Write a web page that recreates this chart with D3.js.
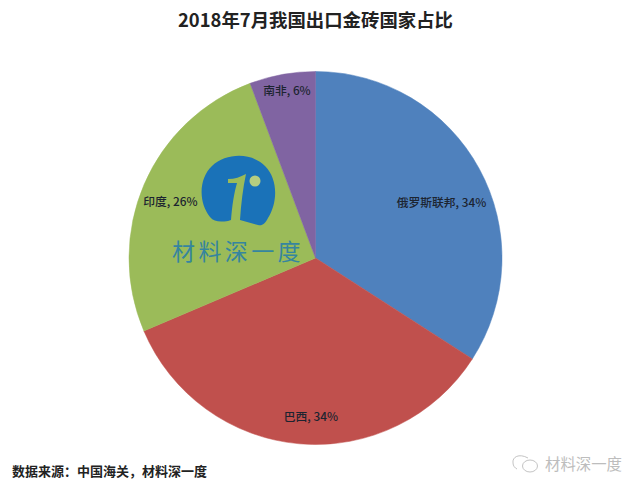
<!DOCTYPE html>
<meta charset="utf-8">
<style>
body { margin: 0; background: #fff; }
svg { display: block; }
text { font-family: "Noto Sans CJK SC", "Liberation Sans", sans-serif; }
.title { font-size: 18.4px; font-weight: 700; fill: #222; }
.slice-label { font-size: 11.8px; font-weight: 500; fill: #1c2430; }
.source { font-size: 13px; font-weight: 700; fill: #222; }
.brand { font-size: 23px; font-weight: 400; fill: #35859f; letter-spacing: 3.4px; }
.wechat { font-size: 15.4px; fill: #bdbdbd; }
</style>
<div id="chart"></div>
<script src="https://cdn.jsdelivr.net/npm/d3@7"></script>
<script>

const categories = ['俄罗斯联邦', '巴西', '印度', '南非'];
const shares = [34.1, 34.5, 25.7, 5.7];
const shareLabels = ['34%', '34%', '26%', '6%'];
const sliceColors = ['#4f81bd', '#c0504d', '#9bbb59', '#8064a2'];

const titleText = '2018年7月我国出口金砖国家占比';
const sourceText = '数据来源：中国海关，材料深一度';
const brandText = '材料深一度';

const width = 630,
      height = 485;

const cx = 315.5,
      cy = 258,
      radius = 186.5;

// excel "best fit" labels don't sit on the centroid, nudge them by hand
const labelNudge = [[-5, 16], [8, 10], [-8, 3], [-2, -20]];

const svg = d3.select('#chart')
    .append('svg')
        .attr('width', width)
        .attr('height', height);

svg.append('text')
    .attr('class', 'title')
    .attr('x', 315.5)
    .attr('y', 27)
    .attr('text-anchor', 'middle')
    .text(titleText);

const pie = d3.pie().sort(null);
const arc = d3.arc().innerRadius(0).outerRadius(radius);
const labelArc = d3.arc().innerRadius(radius * 0.8).outerRadius(radius * 0.8);

const gPie = svg.append('g')
    .attr('transform', 'translate(' + cx + ',' + cy + ')');

const arcs = pie(shares);

gPie.selectAll('path')
    .data(arcs)
    .enter().append('path')
        .attr('d', arc)
        .attr('fill', function(d, i) { return sliceColors[i]; })
        .attr('stroke', function(d, i) { return sliceColors[i]; })
        .attr('stroke-width', 0.5);

// watermark logo
const gLogo = svg.append('g')
    .attr('transform', 'translate(238,190)');

gLogo.append('path')
    .attr('fill', '#1a72b8')
    .attr('d', 'M-28,27 C-40,12 -39,-12 -26,-24 C-12,-37 13,-38 27,-24 C40,-11 40,12 30,28 C27,34 24,36 20,35 L2,30 L-7,30 L-10,31 C-18,32 -24,32 -28,27 Z');

gLogo.append('path')
    .attr('fill', '#9bbb59')
    .attr('d', 'M-10,-11 C-3,-11 2,-13 8,-16 C5,-2 3,14 2,30 L-7,30 C-6,16 -4,3 -1,-7 L-10,-7 Z');

gLogo.append('circle')
    .attr('cx', 17)
    .attr('cy', -9)
    .attr('r', 5.5)
    .attr('fill', '#b5cd80');

svg.append('text')
    .attr('class', 'brand')
    .attr('x', 172)
    .attr('y', 260)
    .text(brandText);

svg.selectAll('.slice-label')
    .data(arcs)
    .enter().append('text')
        .attr('class', 'slice-label')
        .attr('text-anchor', 'middle')
        .attr('x', function(d, i) { return cx + labelArc.centroid(d)[0] + labelNudge[i][0]; })
        .attr('y', function(d, i) { return cy + labelArc.centroid(d)[1] + labelNudge[i][1] + 4; })
        .text(function(d, i) { return categories[i] + ', ' + shareLabels[i]; });

svg.append('text')
    .attr('class', 'source')
    .attr('x', 12)
    .attr('y', 476)
    .text(sourceText);

// wechat mark, bottom right
const gWechat = svg.append('g')
    .attr('fill', 'none')
    .attr('stroke', '#c4c4c4')
    .attr('stroke-width', 1);

gWechat.append('path').attr('d', 'M528,458 C519,453 512,457 513,463 C513,466 515,468 517,469');
gWechat.append('ellipse').attr('cx', 530).attr('cy', 466).attr('rx', 7.5).attr('ry', 6);

svg.append('text')
    .attr('class', 'wechat')
    .attr('x', 545)
    .attr('y', 470)
    .text('材料深一度');

</script>
